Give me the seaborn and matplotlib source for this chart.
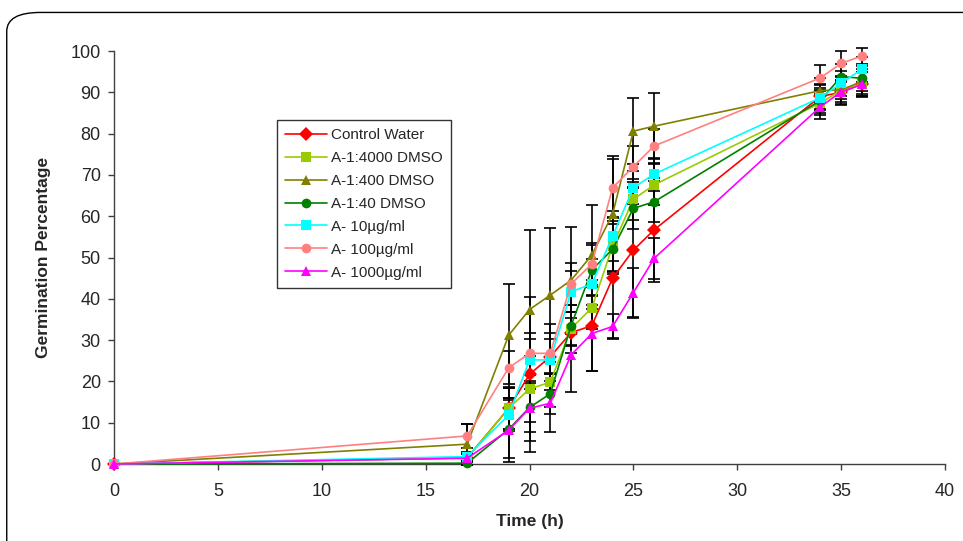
import matplotlib
matplotlib.use("Agg")
import matplotlib.pyplot as plt
import seaborn as sns
import pandas as pd
import numpy as np
from matplotlib.patches import FancyBboxPatch

time_h = [0, 17, 19, 20, 21, 22, 23, 24, 25, 26, 34, 35, 36]
series_names = ["Control Water", "A-1:4000 DMSO", "A-1:400 DMSO", "A-1:40 DMSO",
                "A- 10\u00b5g/ml", "A- 100\u00b5g/ml", "A- 1000\u00b5g/ml"]

control_water = [0, 1.5, 13.5, 21.7, 26.0, 31.8, 33.5, 45.0, 51.8, 56.7, 89.0, 90.0, 92.0]
a_4000_dmso = [0, 1.5, 13.5, 18.2, 19.8, 32.8, 37.8, 52.8, 64.1, 67.6, 87.4, 90.5, 92.0]
a_400_dmso = [0, 4.8, 31.2, 37.4, 40.9, 44.5, 50.6, 60.5, 80.6, 81.8, 90.4, 90.6, 92.6]
a_40_dmso = [0, 0.2, 8.4, 13.7, 17.0, 33.5, 47.0, 52.0, 61.9, 63.5, 88.0, 93.8, 93.4]
a_10ug = [0, 1.8, 11.9, 25.2, 25.2, 41.7, 43.6, 55.2, 66.9, 70.2, 88.7, 92.2, 95.6]
a_100ug = [0, 6.8, 23.3, 26.8, 26.8, 43.6, 48.4, 66.9, 72.0, 77.0, 93.5, 97.0, 98.8]
a_1000ug = [0, 1.4, 8.2, 13.5, 14.7, 26.4, 31.6, 33.3, 41.5, 49.8, 86.5, 90.1, 91.9]

err_control = [0, 1, 5, 18.7, 8, 5, 11, 14.6, 16.4, 12.6, 3, 3, 3]
err_4000 = [0, 1, 5, 8, 6, 4, 5, 6, 5, 5, 3, 2, 3]
err_400 = [0, 5, 12.5, 19.3, 16.3, 13, 12, 14, 8, 8, 3, 3, 3]
err_40 = [0, 0.5, 7, 6, 5, 5, 6, 6, 5, 5, 3, 3, 3]
err_10 = [0, 1, 4, 5, 5, 5, 6, 6, 4, 4, 3, 3, 3]
err_100 = [0, 3, 4, 5, 5, 5, 5, 7, 5, 4, 3, 3, 2]
err_1000 = [0, 1, 7.7, 8, 7, 9, 9, 3, 6, 5, 3, 3, 3]

values = [control_water, a_4000_dmso, a_400_dmso, a_40_dmso, a_10ug, a_100ug, a_1000ug]
errors = [err_control, err_4000, err_400, err_40, err_10, err_100, err_1000]

colors = ["#FF0000", "#99CC00", "#808000", "#008000", "#00FFFF", "#FF8080", "#FF00FF"]
markers = ["D", "s", "^", "o", "s", "o", "^"]

rows = []
for name, vals in zip(series_names, values):
    for t, v in zip(time_h, vals):
        rows.append({"Time (h)": t, "Germination": v, "Series": name})
df = pd.DataFrame(rows)

sns.set_theme(style="white")
plt.rcParams["font.family"] = ["Liberation Sans", "DejaVu Sans"]

fig = plt.figure(figsize=(9.63, 5.41), dpi=100)
ax = fig.add_axes([0.1184, 0.1423, 0.8629, 0.7634])

# error bars
for vals, errs in zip(values, errors):
    ax.errorbar(time_h, vals, yerr=errs, fmt="none", ecolor="black",
                elinewidth=1.2, capsize=4.5, capthick=1.2, zorder=1)

sns.lineplot(data=df, x="Time (h)", y="Germination", hue="Series", style="Series",
             hue_order=series_names, style_order=series_names,
             palette=dict(zip(series_names, colors)),
             markers=dict(zip(series_names, markers)),
             dashes=False, markersize=7, markeredgewidth=0, linewidth=1.2,
             ax=ax, zorder=3)
for ln in ax.lines:
    ln.set_zorder(3)

ax.set_xlim(0, 40)
ax.set_ylim(0, 100)
ax.set_xticks(np.arange(0, 41, 5))
ax.set_yticks(np.arange(0, 101, 10))
ax.set_xlabel("Time (h)", fontsize=12.5, fontweight="bold", labelpad=10)
ax.set_ylabel("Germination Percentage", fontsize=12.5, fontweight="bold", labelpad=14)
ax.tick_params(axis="both", labelsize=13, direction="out", length=4.5, width=1,
               color="#404040", bottom=True, left=True)
ax.tick_params(axis="x", pad=9)
ax.tick_params(axis="y", pad=5)
for s in ["top", "right"]:
    ax.spines[s].set_visible(False)
for s in ["left", "bottom"]:
    ax.spines[s].set_color("#404040")
    ax.spines[s].set_linewidth(1)
for ln in ax.lines:
    ln.set_clip_on(False)
for c in ax.collections:
    c.set_clip_on(False)

leg = ax.legend(title=None, loc="upper left", bbox_to_anchor=(0.196, 0.833),
                borderaxespad=0, fontsize=11, frameon=True, fancybox=False,
                edgecolor="black", handlelength=2.7, labelspacing=0.58,
                borderpad=0.55, handletextpad=0.3)
leg.get_frame().set_linewidth(1)

frame = FancyBboxPatch((0.007, -0.05), 1.05, 1.027, boxstyle="round,pad=0,rounding_size=0.035",
                       transform=fig.transFigure, fill=False, edgecolor="black",
                       linewidth=1, clip_on=False)
fig.patches.append(frame)

fig.savefig("out.png", dpi=100)
